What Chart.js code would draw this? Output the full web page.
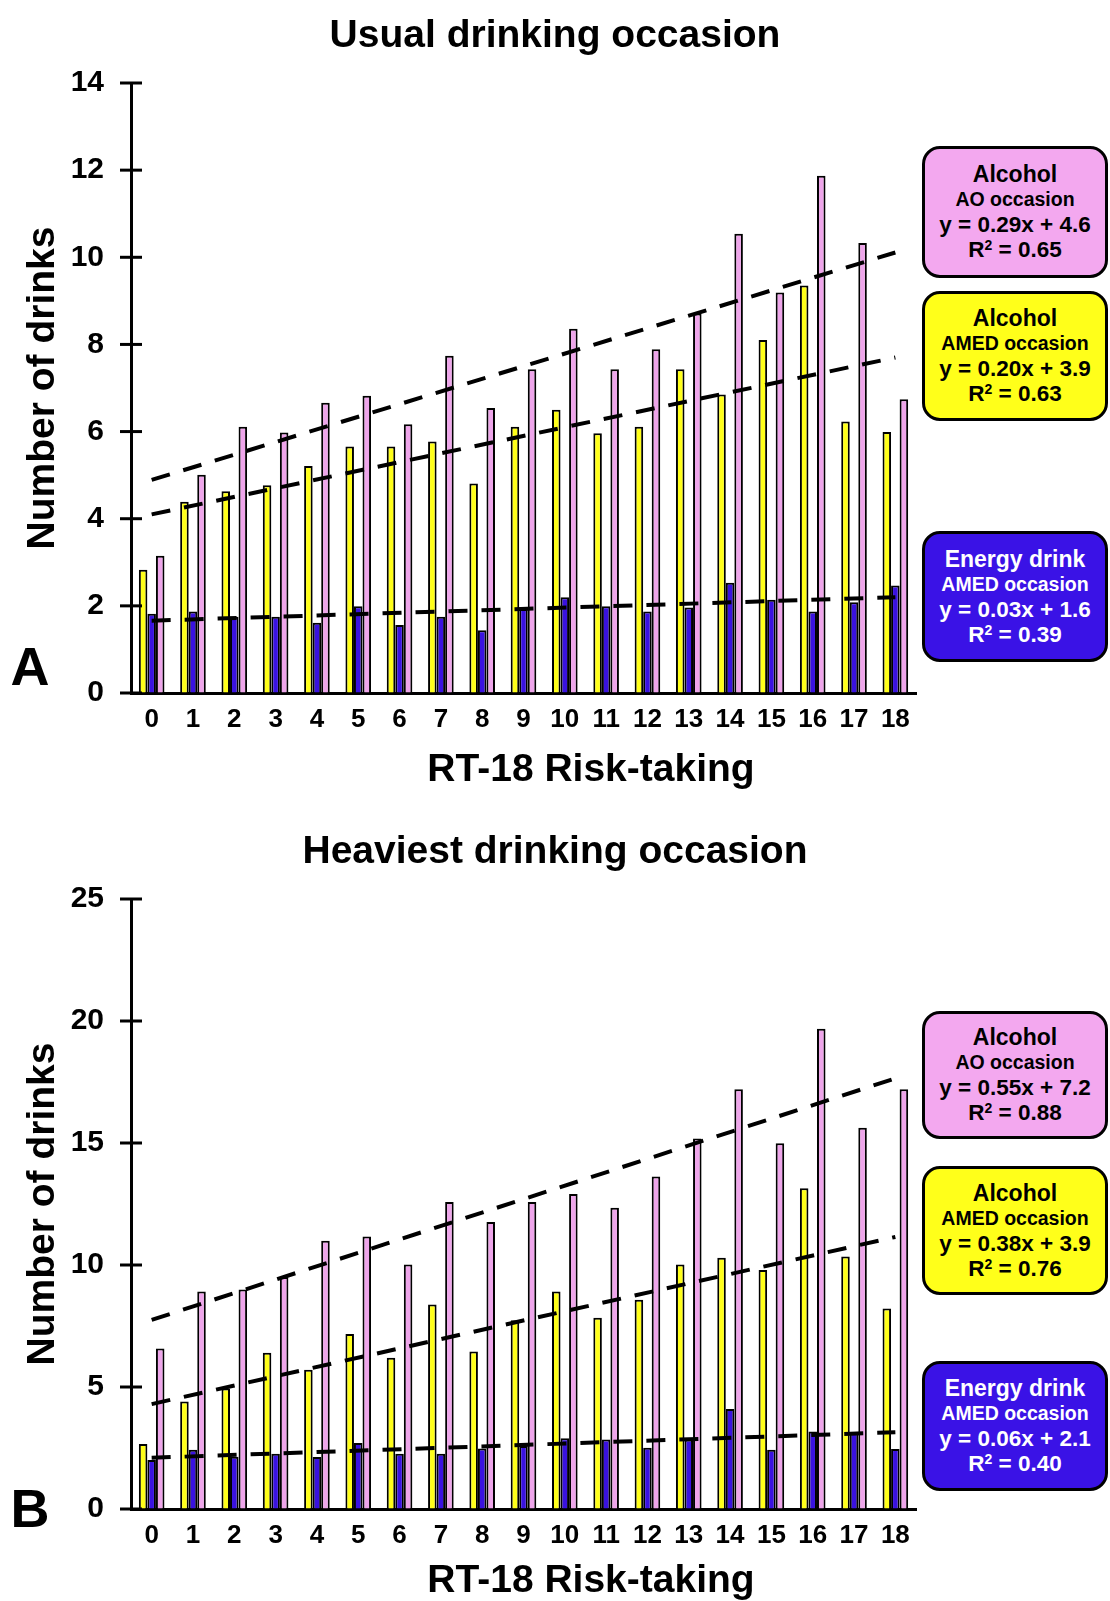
<!DOCTYPE html>
<html>
<head>
<meta charset="utf-8">
<script src="https://cdn.jsdelivr.net/npm/chart.js@4.4.1/dist/chart.umd.min.js"></script>
<style>
  html, body { margin: 0; padding: 0; background: #fff; }
  body { width: 1110px; height: 1601px; position: relative; overflow: hidden;
         font-family: 'Liberation Sans', Arial, sans-serif; font-weight: bold; color: #000; }
  canvas { position: absolute; left: 0; }
  .txt { position: absolute; white-space: nowrap; transform: translate(-50%, -50%); line-height: 1; }
  .rot { transform: translate(-50%, -50%) rotate(-90deg); }
  .box { position: absolute; left: 922px; width: 186px; box-sizing: border-box;
         border: 3px solid #000; border-radius: 18px; display: flex; flex-direction: column;
         justify-content: center; align-items: center; line-height: 25px; }
  .box .l1 { font-size: 23px; }
  .box .l2 { font-size: 19.5px; }
  .box .l3 { font-size: 22.5px; }
  .box sup { font-size: 14px; vertical-align: 7px; line-height: 0; }
  .pink { background: #f3a8ef; }
  .yellow { background: #ffff1a; }
  .blue { background: #3a12e6; color: #fff; }
</style>
</head>
<body>
<canvas id="cA" width="1110" height="800" style="top:0px"></canvas>
<canvas id="cB" width="1110" height="801" style="top:800px"></canvas>

<div class="txt" style="left:555px;top:33px;font-size:39px">Usual drinking occasion</div>
<div class="txt rot" style="left:40px;top:388px;font-size:39px">Number of drinks</div>
<div class="txt" style="left:591px;top:767px;font-size:39px">RT-18 Risk-taking</div>
<div class="txt" style="left:30px;top:666px;font-size:54px">A</div>

<div class="txt" style="left:555px;top:849px;font-size:39px">Heaviest drinking occasion</div>
<div class="txt rot" style="left:40px;top:1204px;font-size:39px">Number of drinks</div>
<div class="txt" style="left:591px;top:1578px;font-size:39px">RT-18 Risk-taking</div>
<div class="txt" style="left:30px;top:1508px;font-size:54px">B</div>

<div id="boxes"></div>

<script>
// ---------- DATA ----------
const categories = ['0','1','2','3','4','5','6','7','8','9','10','11','12','13','14','15','16','17','18'];

// Panel A: Usual drinking occasion
const usualAlcoholAMED = [2.83, 4.39, 4.63, 4.77, 5.21, 5.66, 5.66, 5.77, 4.81, 6.11, 6.50, 5.96, 6.11, 7.43, 6.85, 8.10, 9.35, 6.23, 5.99];
const usualEnergyAMED  = [1.82, 1.87, 1.75, 1.75, 1.61, 1.99, 1.56, 1.75, 1.44, 1.93, 2.20, 1.99, 1.87, 1.96, 2.53, 2.14, 1.87, 2.08, 2.47];
const usualAlcoholAO   = [3.15, 5.01, 6.11, 5.98, 6.66, 6.82, 6.17, 7.74, 6.54, 7.43, 8.36, 7.43, 7.89, 8.71, 10.54, 9.19, 11.87, 10.33, 6.74];
// trend line end values (at category 0 and category 18)
const usualTrendAO     = [4.89, 10.11];
const usualTrendAMED   = [4.10, 7.70];
const usualTrendEnergy = [1.66, 2.20];
const usualTicks = { max: 14, step: 2 };

// Panel B: Heaviest drinking occasion
const heavyAlcoholAMED = [2.66, 4.41, 4.94, 6.40, 5.71, 7.17, 6.20, 8.38, 6.45, 7.74, 8.91, 7.84, 8.58, 10.02, 10.30, 9.80, 13.15, 10.35, 8.22];
const heavyEnergyAMED  = [2.01, 2.43, 2.14, 2.26, 2.13, 2.71, 2.26, 2.26, 2.48, 2.58, 2.90, 2.85, 2.51, 2.85, 4.10, 2.43, 3.18, 3.15, 2.46];
const heavyAlcoholAO   = [6.58, 8.91, 9.00, 9.51, 10.99, 11.17, 10.02, 12.58, 11.76, 12.58, 12.91, 12.35, 13.63, 15.18, 17.20, 14.99, 19.68, 15.63, 17.20];
const heavyTrendAO     = [7.75, 17.65];
const heavyTrendAMED   = [4.30, 11.15];
const heavyTrendEnergy = [2.10, 3.15];
const heavyTicks = { max: 25, step: 5 };

// Legend box texts
const boxTitles    = ['Alcohol', 'Alcohol', 'Energy drink'];
const boxSubtitles = ['AO occasion', 'AMED occasion', 'AMED occasion'];
const usualEquations = ['y = 0.29x + 4.6', 'y = 0.20x + 3.9', 'y = 0.03x + 1.6'];
const usualR2        = ['0.65', '0.63', '0.39'];
const heavyEquations = ['y = 0.55x + 7.2', 'y = 0.38x + 3.9', 'y = 0.06x + 2.1'];
const heavyR2        = ['0.88', '0.76', '0.40'];

// ---------- STYLE ----------
const COL_YELLOW = '#ffff1a';
const COL_BLUE = '#3a12e0';
const COL_PINK = '#eea5ea';
const FONT = "'Liberation Sans', Arial, sans-serif";

// legend boxes
const boxClasses = ['pink', 'yellow', 'blue'];
const boxLayout = [
  [[146, 132], [291, 130], [531, 131]],
  [[1011, 128], [1166, 129], [1361, 130]]
];
const boxHost = document.getElementById('boxes');
[[usualEquations, usualR2], [heavyEquations, heavyR2]].forEach((panel, p) => {
  for (let i = 0; i < 3; i++) {
    const d = document.createElement('div');
    d.className = 'box ' + boxClasses[i];
    d.style.top = boxLayout[p][i][0] + 'px';
    d.style.height = boxLayout[p][i][1] + 'px';
    d.innerHTML = '<div class="l1">' + boxTitles[i] + '</div>' +
                  '<div class="l2">' + boxSubtitles[i] + '</div>' +
                  '<div class="l3">' + panel[0][i] + '</div>' +
                  '<div class="l3">R<sup>2</sup> = ' + panel[1][i] + '</div>';
    boxHost.appendChild(d);
  }
});

function trendData(ends) {
  const arr = categories.map(() => null);
  arr[0] = ends[0];
  arr[categories.length - 1] = ends[1];
  return arr;
}

const tickCross = {
  id: 'tickCross',
  afterDraw(chart) {
    const ys = chart.scales.y;
    const ctx = chart.ctx;
    const x0 = chart.chartArea.left;
    ctx.save();
    ctx.strokeStyle = '#000';
    ctx.lineWidth = 3;
    ys.ticks.forEach((t, i) => {
      const py = ys.getPixelForTick(i);
      ctx.beginPath();
      ctx.moveTo(x0 - 11, py);
      ctx.lineTo(x0 + 11, py);
      ctx.stroke();
    });
    ctx.restore();
  }
};

function makeChart(id, yellow, blue, pink, tAO, tAMED, tEn, ticks, topPad, xHeight) {
  const barCommon = { borderColor: '#000', borderWidth: 2, categoryPercentage: 0.62, barPercentage: 1.0, order: 1 };
  const lineCommon = { type: 'line', borderColor: '#000', borderWidth: 4, borderDash: [19, 14],
                       pointRadius: 0, spanGaps: true, fill: false, order: 0 };
  return new Chart(document.getElementById(id), {
    type: 'bar',
    data: {
      labels: categories,
      datasets: [
        Object.assign({ label: 'Alcohol AMED occasion', data: yellow, backgroundColor: COL_YELLOW }, barCommon),
        Object.assign({ label: 'Energy drink AMED occasion', data: blue, backgroundColor: COL_BLUE }, barCommon),
        Object.assign({ label: 'Alcohol AO occasion', data: pink, backgroundColor: COL_PINK }, barCommon),
        Object.assign({ label: 'Trend AO', data: trendData(tAO) }, lineCommon),
        Object.assign({ label: 'Trend AMED', data: trendData(tAMED) }, lineCommon),
        Object.assign({ label: 'Trend Energy', data: trendData(tEn) }, lineCommon)
      ]
    },
    options: {
      responsive: false,
      animation: false,
      devicePixelRatio: 1,
      layout: { padding: { top: topPad, right: 194, bottom: 0, left: 0 } },
      plugins: { legend: { display: false }, tooltip: { enabled: false }, title: { display: false } },
      scales: {
        x: {
          grid: { display: true, drawOnChartArea: false, drawTicks: false, color: '#000' },
          border: { display: true, color: '#000', width: 3 },
          ticks: { color: '#000', font: { family: FONT, size: 26, weight: 'bold' }, padding: 11,
                   autoSkip: false, maxRotation: 0, minRotation: 0 },
          afterFit(s) { s.height = xHeight; }
        },
        y: {
          min: 0, max: ticks.max,
          grid: { display: true, drawOnChartArea: false, drawTicks: false, color: '#000' },
          border: { display: true, color: '#000', width: 3 },
          ticks: { stepSize: ticks.step, color: '#000', font: { family: FONT, size: 30, weight: 'bold' }, padding: 27 },
          afterFit(s) { s.width = 131; }
        }
      }
    },
    plugins: [tickCross]
  });
}

makeChart('cA', usualAlcoholAMED, usualEnergyAMED, usualAlcoholAO, usualTrendAO, usualTrendAMED, usualTrendEnergy, usualTicks, 83, 107);
makeChart('cB', heavyAlcoholAMED, heavyEnergyAMED, heavyAlcoholAO, heavyTrendAO, heavyTrendAMED, heavyTrendEnergy, heavyTicks, 99, 92);
</script>
</body>
</html>
